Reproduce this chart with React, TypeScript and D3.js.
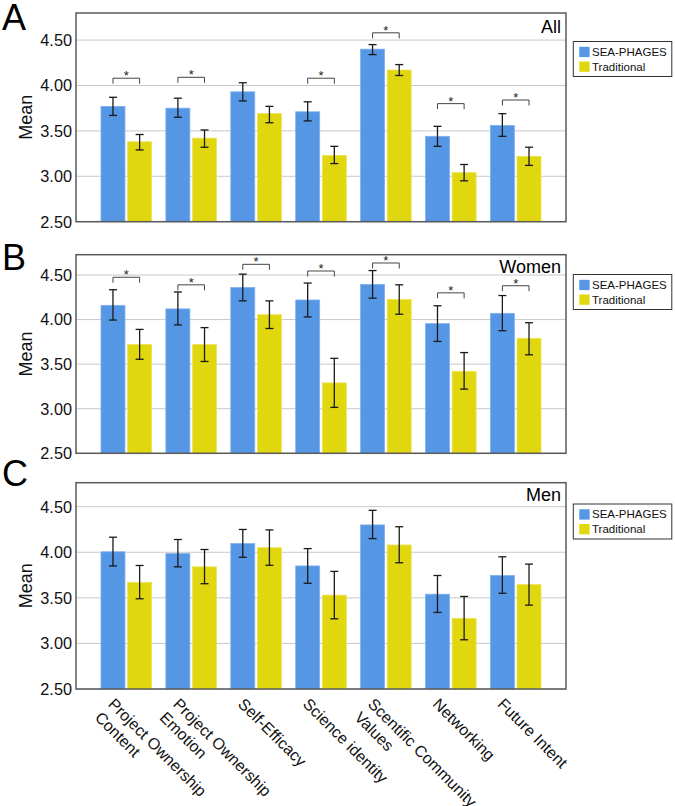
import React from "react";
import * as d3 from "d3";

// ---------- data ----------
const categories = [
  "Project Ownership Content",
  "Project Ownership Emotion",
  "Self-Efficacy",
  "Science identity",
  "Scentific Community Values",
  "Networking",
  "Future Intent",
];
const categoryLabelLines = [
  ["Project Ownership", "Content"],
  ["Project Ownership", "Emotion"],
  ["Self-Efficacy"],
  ["Science identity"],
  ["Scentific Community", "Values"],
  ["Networking"],
  ["Future Intent"],
];
const seriesNames = ["SEA-PHAGES", "Traditional"];
const yTicks = [2.5, 3.0, 3.5, 4.0, 4.5];

// All
const allSeaMean = [3.77, 3.75, 3.93, 3.71, 4.4, 3.44, 3.56];
const allSeaHi = [3.87, 3.86, 4.03, 3.82, 4.45, 3.55, 3.69];
const allSeaLo = [3.67, 3.65, 3.83, 3.61, 4.34, 3.33, 3.44];
const allTradMean = [3.38, 3.42, 3.69, 3.23, 4.17, 3.04, 3.22];
const allTradHi = [3.46, 3.51, 3.77, 3.33, 4.23, 3.13, 3.32];
const allTradLo = [3.29, 3.32, 3.59, 3.14, 4.11, 2.95, 3.12];
const allSig = [4.08, 4.09, null, 4.08, 4.58, 3.8, 3.84];

// Women
const womenSeaMean = [4.16, 4.12, 4.36, 4.22, 4.395, 3.955, 4.07];
const womenSeaHi = [4.335, 4.31, 4.51, 4.41, 4.55, 4.155, 4.27];
const womenSeaLo = [3.995, 3.94, 4.21, 4.03, 4.24, 3.755, 3.875];
const womenTradMean = [3.72, 3.72, 4.055, 3.29, 4.225, 3.42, 3.79];
const womenTradHi = [3.89, 3.91, 4.21, 3.565, 4.39, 3.63, 3.965];
const womenTradLo = [3.555, 3.53, 3.9, 3.015, 4.06, 3.22, 3.605];
const womenSig = [4.475, 4.39, 4.62, 4.545, 4.635, 4.3, 4.38];

// Men
const menSeaMean = [4.005, 3.985, 4.095, 3.85, 4.3, 3.54, 3.745];
const menSeaHi = [4.165, 4.14, 4.25, 4.04, 4.46, 3.745, 3.95];
const menSeaLo = [3.85, 3.84, 3.945, 3.66, 4.15, 3.34, 3.55];
const menTradMean = [3.67, 3.84, 4.05, 3.53, 4.08, 3.275, 3.645];
const menTradHi = [3.855, 4.03, 4.245, 3.79, 4.28, 3.515, 3.87];
const menTradLo = [3.49, 3.655, 3.857, 3.27, 3.885, 3.04, 3.42];
const menSig = [null, null, null, null, null, null, null];

// ---------- layout / style ----------
const W = 675;
const H = 806;
const LEFT = 76;
const RIGHT = 566;
const COLORS = ["#5596E5", "#E1D70E"];
const STROKES = ["#7FB1EE", "#ECE25A"];
const FONT = "'Liberation Sans', Arial, Helvetica, sans-serif";

const panels = [
  { letter: "A", title: "All", top: 13, bottom: 221.7, yMax: 4.798, legendTop: 41.5, letterY: 29.5, titleY: 33.3,
    sea: [allSeaMean, allSeaLo, allSeaHi], trad: [allTradMean, allTradLo, allTradHi], sig: allSig },
  { letter: "B", title: "Women", top: 254.7, bottom: 453.3, yMax: 4.728, legendTop: 274.5, letterY: 270, titleY: 272.7,
    sea: [womenSeaMean, womenSeaLo, womenSeaHi], trad: [womenTradMean, womenTradLo, womenTradHi], sig: womenSig },
  { letter: "C", title: "Men", top: 482.7, bottom: 689, yMax: 4.763, legendTop: 504, letterY: 486, titleY: 501,
    sea: [menSeaMean, menSeaLo, menSeaHi], trad: [menTradMean, menTradLo, menTradHi], sig: menSig },
];

const x0 = d3.scaleBand<string>().domain(categories).range([LEFT, RIGHT]).paddingInner(0.22).paddingOuter(0.385);
const x1 = d3.scaleBand<string>().domain(seriesNames).range([0, x0.bandwidth()]).paddingInner(0.1).paddingOuter(0);

function Panel({ p, showXLabels }: { p: any; showXLabels: boolean }) {
  const y = d3.scaleLinear().domain([2.5, p.yMax]).range([p.bottom, p.top]);
  const series = [p.sea, p.trad];
  const fmt = d3.format(".2f");
  const capW = 8;
  return (
    <g>
      {/* panel letter */}
      <text x={2} y={p.letterY} fontSize={36} fontFamily={FONT} fill="#000">{p.letter}</text>
      {/* gridlines */}
      {yTicks.map((t) => (
        <line key={t} x1={LEFT} x2={RIGHT} y1={y(t)} y2={y(t)} stroke="#c8c8c8" strokeWidth={1} />
      ))}
      {/* tick labels */}
      {yTicks.map((t) => (
        <text key={"l" + t} x={72} y={y(t)} dy="0.36em" textAnchor="end" fontSize={16.3} fontFamily={FONT} fill="#111">
          {fmt(t)}
        </text>
      ))}
      {/* Mean label */}
      <text
        transform={`translate(26,${(p.top + p.bottom) / 2}) rotate(-90)`}
        textAnchor="middle"
        dy="0.36em"
        fontSize={18}
        fontFamily={FONT}
        fill="#111"
      >
        Mean
      </text>
      {/* bars */}
      {categories.map((c, i) => (
        <g key={c}>
          {seriesNames.map((s, k) => {
            const [mean] = series[k];
            const bx = (x0(c) as number) + (x1(s) as number);
            return (
              <rect
                key={s}
                x={bx}
                y={y(mean[i])}
                width={x1.bandwidth()}
                height={p.bottom - y(mean[i])}
                fill={COLORS[k]}
                stroke={STROKES[k]}
                strokeWidth={0.8}
              />
            );
          })}
        </g>
      ))}
      {/* error bars */}
      {categories.map((c, i) => (
        <g key={"e" + c}>
          {seriesNames.map((s, k) => {
            const [, lo, hi] = series[k];
            const cx = (x0(c) as number) + (x1(s) as number) + x1.bandwidth() / 2;
            return (
              <g key={s} stroke="#1a1a1a" strokeWidth={1.3}>
                <line x1={cx} x2={cx} y1={y(lo[i])} y2={y(hi[i])} />
                <line x1={cx - capW / 2} x2={cx + capW / 2} y1={y(lo[i])} y2={y(lo[i])} />
                <line x1={cx - capW / 2} x2={cx + capW / 2} y1={y(hi[i])} y2={y(hi[i])} />
              </g>
            );
          })}
        </g>
      ))}
      {/* significance brackets */}
      {categories.map((c, i) => {
        const v = p.sig[i];
        if (v == null) return null;
        const xa = (x0(c) as number) + (x1(seriesNames[0]) as number) + x1.bandwidth() / 2;
        const xb = (x0(c) as number) + (x1(seriesNames[1]) as number) + x1.bandwidth() / 2;
        const yy = y(v);
        return (
          <g key={"s" + c}>
            <path d={`M${xa},${yy + 5.5}V${yy}H${xb}V${yy + 5.5}`} fill="none" stroke="#444" strokeWidth={1} />
            <text x={(xa + xb) / 2} y={yy + 2} textAnchor="middle" fontSize={13} fontFamily={FONT} fill="#222">
              *
            </text>
          </g>
        );
      })}
      {/* frame */}
      <rect x={LEFT} y={p.top} width={RIGHT - LEFT} height={p.bottom - p.top} fill="none" stroke="#5a5a5a" strokeWidth={1.5} />
      {/* title */}
      <text x={561} y={p.titleY} textAnchor="end" fontSize={18} fontFamily={FONT} fill="#000">
        {p.title}
      </text>
      {/* legend */}
      <g transform={`translate(573.3,${p.legendTop})`}>
        <rect x={0} y={0} width={98.5} height={35} fill="#fff" stroke="#333" strokeWidth={1} />
        {seriesNames.map((s, k) => (
          <g key={s}>
            <rect x={6} y={5.3 + k * 14.7} width={10.3} height={10.3} fill={COLORS[k]} />
            <text x={18.7} y={14.4 + k * 15} fontSize={11.5} fontFamily={FONT} fill="#111">
              {s}
            </text>
          </g>
        ))}
      </g>
      {/* x labels */}
      {showXLabels &&
        categories.map((c, i) => {
          const cx = (x0(c) as number) + x0.bandwidth() / 2;
          return (
            <g key={"x" + c}>
              {categoryLabelLines[i].map((ln, j) => (
                <text
                  key={j}
                  transform={`translate(${cx - 19 - 13.4 * j},${p.bottom + 16 + 13.4 * j}) rotate(45)`}
                  fontSize={16}
                  fontFamily={FONT}
                  fill="#111"
                >
                  {ln}
                </text>
              ))}
            </g>
          );
        })}
    </g>
  );
}

export default function App() {
  return (
    <div style={{ position: "absolute", left: 0, top: 0 }}>
      <svg width={W} height={H} viewBox={`0 0 ${W} ${H}`} style={{ display: "block", background: "#fff" }}>
        <rect x={0} y={0} width={W} height={H} fill="#fff" />
        {panels.map((p, i) => (
          <Panel key={p.letter} p={p} showXLabels={i === panels.length - 1} />
        ))}
      </svg>
    </div>
  );
}
